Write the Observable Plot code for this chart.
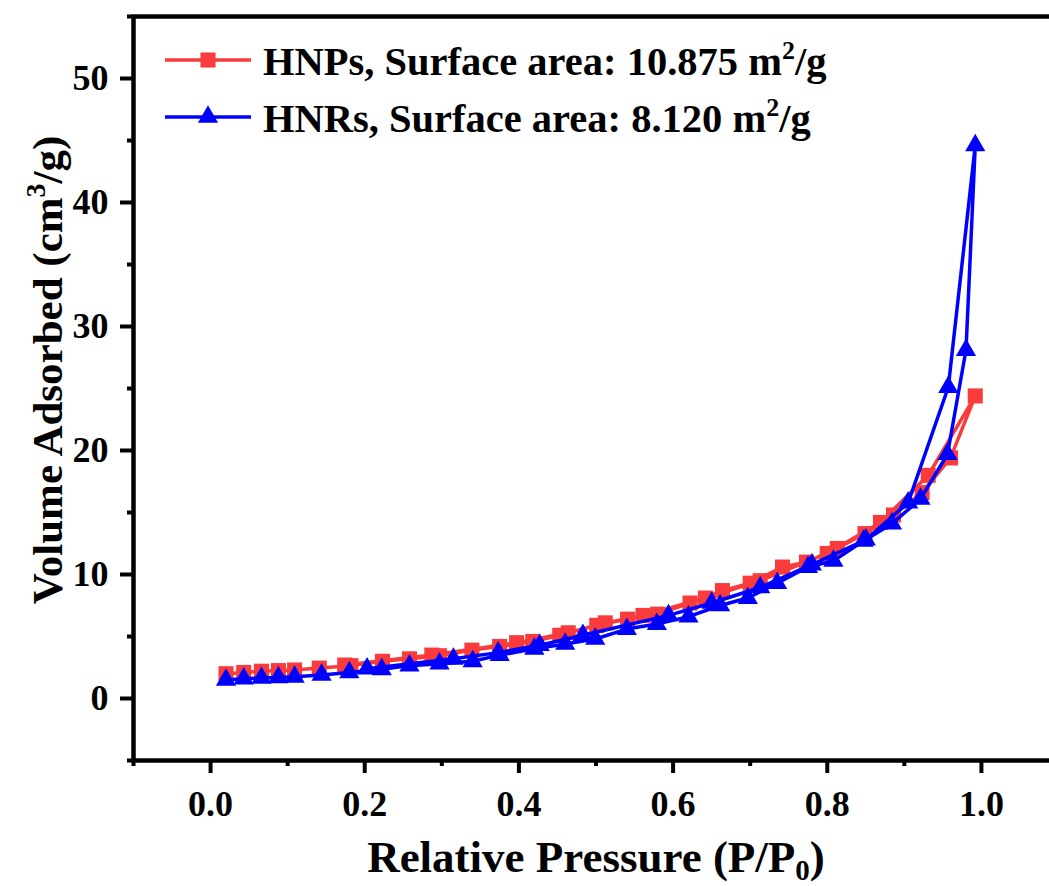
<!DOCTYPE html>
<html>
<head>
<meta charset="utf-8">
<script src="https://cdn.jsdelivr.net/npm/d3@7"></script>
<script src="https://cdn.jsdelivr.net/npm/@observablehq/plot@0.6"></script>
<style>
  html, body { margin: 0; padding: 0; background: #fff; overflow: hidden; }
  #wrap { position: relative; width: 1049px; height: 886px; overflow: hidden; }
  #wrap > svg { max-width: none !important; }
  #legend { position: absolute; left: 0; top: 0; }
  text { font-family: "Liberation Serif", "Times New Roman", serif; font-weight: bold; }
</style>
</head>
<body>
<div id="wrap"></div>
<script>
// ---- data ----
const seriesNames = ["HNPs, Surface area: 10.875 m²/g", "HNRs, Surface area: 8.120 m²/g"];
// HNPs: adsorption branch followed by desorption branch
const hnpsP = [0.020, 0.043, 0.066, 0.088, 0.109, 0.141, 0.182, 0.223, 0.258, 0.297, 0.339, 0.375, 0.418, 0.453, 0.501, 0.541, 0.580, 0.622, 0.664, 0.700, 0.742, 0.773, 0.813, 0.849, 0.886, 0.923, 0.960, 0.992,
               0.931, 0.869, 0.800, 0.713, 0.642, 0.561, 0.512, 0.464, 0.397, 0.287, 0.174];
const hnpsV = [2.0, 2.1, 2.2, 2.25, 2.3, 2.45, 2.65, 3.0, 3.2, 3.45, 3.9, 4.2, 4.6, 5.1, 5.9, 6.4, 6.8, 7.7, 8.7, 9.3, 10.6, 11.0, 12.1, 13.3, 14.8, 16.6, 19.4, 24.4,
               18.0, 14.2, 11.7, 9.5, 8.1, 6.7, 6.1, 5.3, 4.5, 3.5, 2.7];
// HNRs: adsorption branch followed by desorption branch
const hnrsP = [0.020, 0.043, 0.066, 0.088, 0.109, 0.144, 0.180, 0.222, 0.258, 0.297, 0.340, 0.375, 0.420, 0.460, 0.499, 0.540, 0.579, 0.620, 0.661, 0.697, 0.735, 0.775, 0.808, 0.847, 0.884, 0.921, 0.956, 0.980, 0.992,
               0.957, 0.905, 0.850, 0.780, 0.713, 0.650, 0.594, 0.483, 0.427, 0.373, 0.315, 0.203];
const hnrsV = [1.5, 1.6, 1.65, 1.7, 1.75, 1.9, 2.1, 2.35, 2.65, 2.8, 3.0, 3.5, 4.0, 4.4, 4.8, 5.6, 6.0, 6.6, 7.5, 8.1, 9.3, 10.6, 11.1, 12.7, 14.1, 16.1, 19.7, 28.1, 44.6,
               25.1, 15.8, 12.8, 10.8, 8.95, 7.7, 6.7, 5.1, 4.3, 3.7, 3.2, 2.4];
const xMajor = [0.0, 0.2, 0.4, 0.6, 0.8, 1.0];
const xMinor = [-0.1, 0.1, 0.3, 0.5, 0.7, 0.9, 1.1];
const yMajor = [0, 10, 20, 30, 40, 50];
const yMinor = [-5, 5, 15, 25, 35, 45, 55];
const colors = ["#f93b3b", "#0000ff"];

const hnps = hnpsP.map((p, i) => ({p, v: hnpsV[i]}));
const hnrs = hnrsP.map((p, i) => ({p, v: hnrsV[i]}));

const chart = Plot.plot({
  width: 1065,
  height: 886,
  marginLeft: 133,
  marginRight: 7,
  marginTop: 16,
  marginBottom: 126,
  style: {background: "white", color: "black", fontFamily: "Liberation Serif, serif", fontWeight: "bold", maxWidth: "none"},
  x: {domain: [-0.1, 1.1]},
  y: {domain: [-5, 55]},
  marks: [
    Plot.line(hnps, {x: "p", y: "v", stroke: colors[0], strokeWidth: 3.5}),
    Plot.dot(hnps, {x: "p", y: "v", symbol: "square", r: 8.5, fill: colors[0], stroke: "none"}),
    Plot.line(hnrs, {x: "p", y: "v", stroke: colors[1], strokeWidth: 3.5}),
    Plot.dot(hnrs, {x: "p", y: "v", symbol: "triangle", r: 7.5, fill: colors[1], stroke: "none"}),
    Plot.axisX({ticks: xMinor, tickSize: 6, strokeWidth: 4, text: null, label: null}),
    Plot.axisX({ticks: xMajor, tickSize: 13, tickPadding: 17, strokeWidth: 4, fontSize: 36, tickFormat: d3.format(".1f"), label: null}),
    Plot.axisY({ticks: yMinor, tickSize: 6, strokeWidth: 4, text: null, label: null}),
    Plot.axisY({ticks: yMajor, tickSize: 13, tickPadding: 12, strokeWidth: 4, fontSize: 36, label: null}),
    Plot.frame({stroke: "black", strokeWidth: 4.5})
  ]
});
chart.style.display = "block";
chart.style.maxWidth = "none";
chart.style.width = "1065px";
chart.style.height = "886px";
document.getElementById("wrap").appendChild(chart);

// axis titles with sub/superscripts
const svg = d3.select(chart);
const xt = svg.append("text").attr("x", 596).attr("y", 872).attr("text-anchor", "middle")
  .attr("font-size", 45).attr("fill", "black");
xt.append("tspan").text("Relative Pressure (P/P");
xt.append("tspan").attr("font-size", 29).attr("dy", 8).text("0");
xt.append("tspan").attr("dy", -8).text(")");

const yt = svg.append("text").attr("transform", "translate(62,370) rotate(-90)").attr("text-anchor", "middle")
  .attr("font-size", 43).attr("fill", "black");
yt.append("tspan").text("Volume Adsorbed (cm");
yt.append("tspan").attr("font-size", 28).attr("dy", -17).text("3");
yt.append("tspan").attr("dy", 17).text("/g)");

// legend (inside plot, top-left)
const lg = d3.select("#wrap").append("svg").attr("id", "legend").attr("width", 900).attr("height", 150);
const rows = [
  {y: 60, name: "HNPs, Surface area: 10.875 m", sym: d3.symbolSquare, size: Math.PI * 8.5 * 8.5},
  {y: 117, name: "HNRs, Surface area: 8.120 m", sym: d3.symbolTriangle, size: Math.PI * 7.5 * 7.5}
];
rows.forEach((r, i) => {
  lg.append("line").attr("x1", 165).attr("x2", 251).attr("y1", r.y).attr("y2", r.y)
    .attr("stroke", colors[i]).attr("stroke-width", 3.5);
  lg.append("path").attr("d", d3.symbol(r.sym, r.size)()).attr("transform", `translate(208,${r.y})`)
    .attr("fill", colors[i]);
  const t = lg.append("text").attr("x", 263).attr("y", r.y + 15).attr("font-size", 40.5).attr("fill", "black");
  t.append("tspan").text(r.name);
  t.append("tspan").attr("font-size", 26).attr("dy", -16).text("2");
  t.append("tspan").attr("dy", 16).text("/g");
});
</script>
</body>
</html>
